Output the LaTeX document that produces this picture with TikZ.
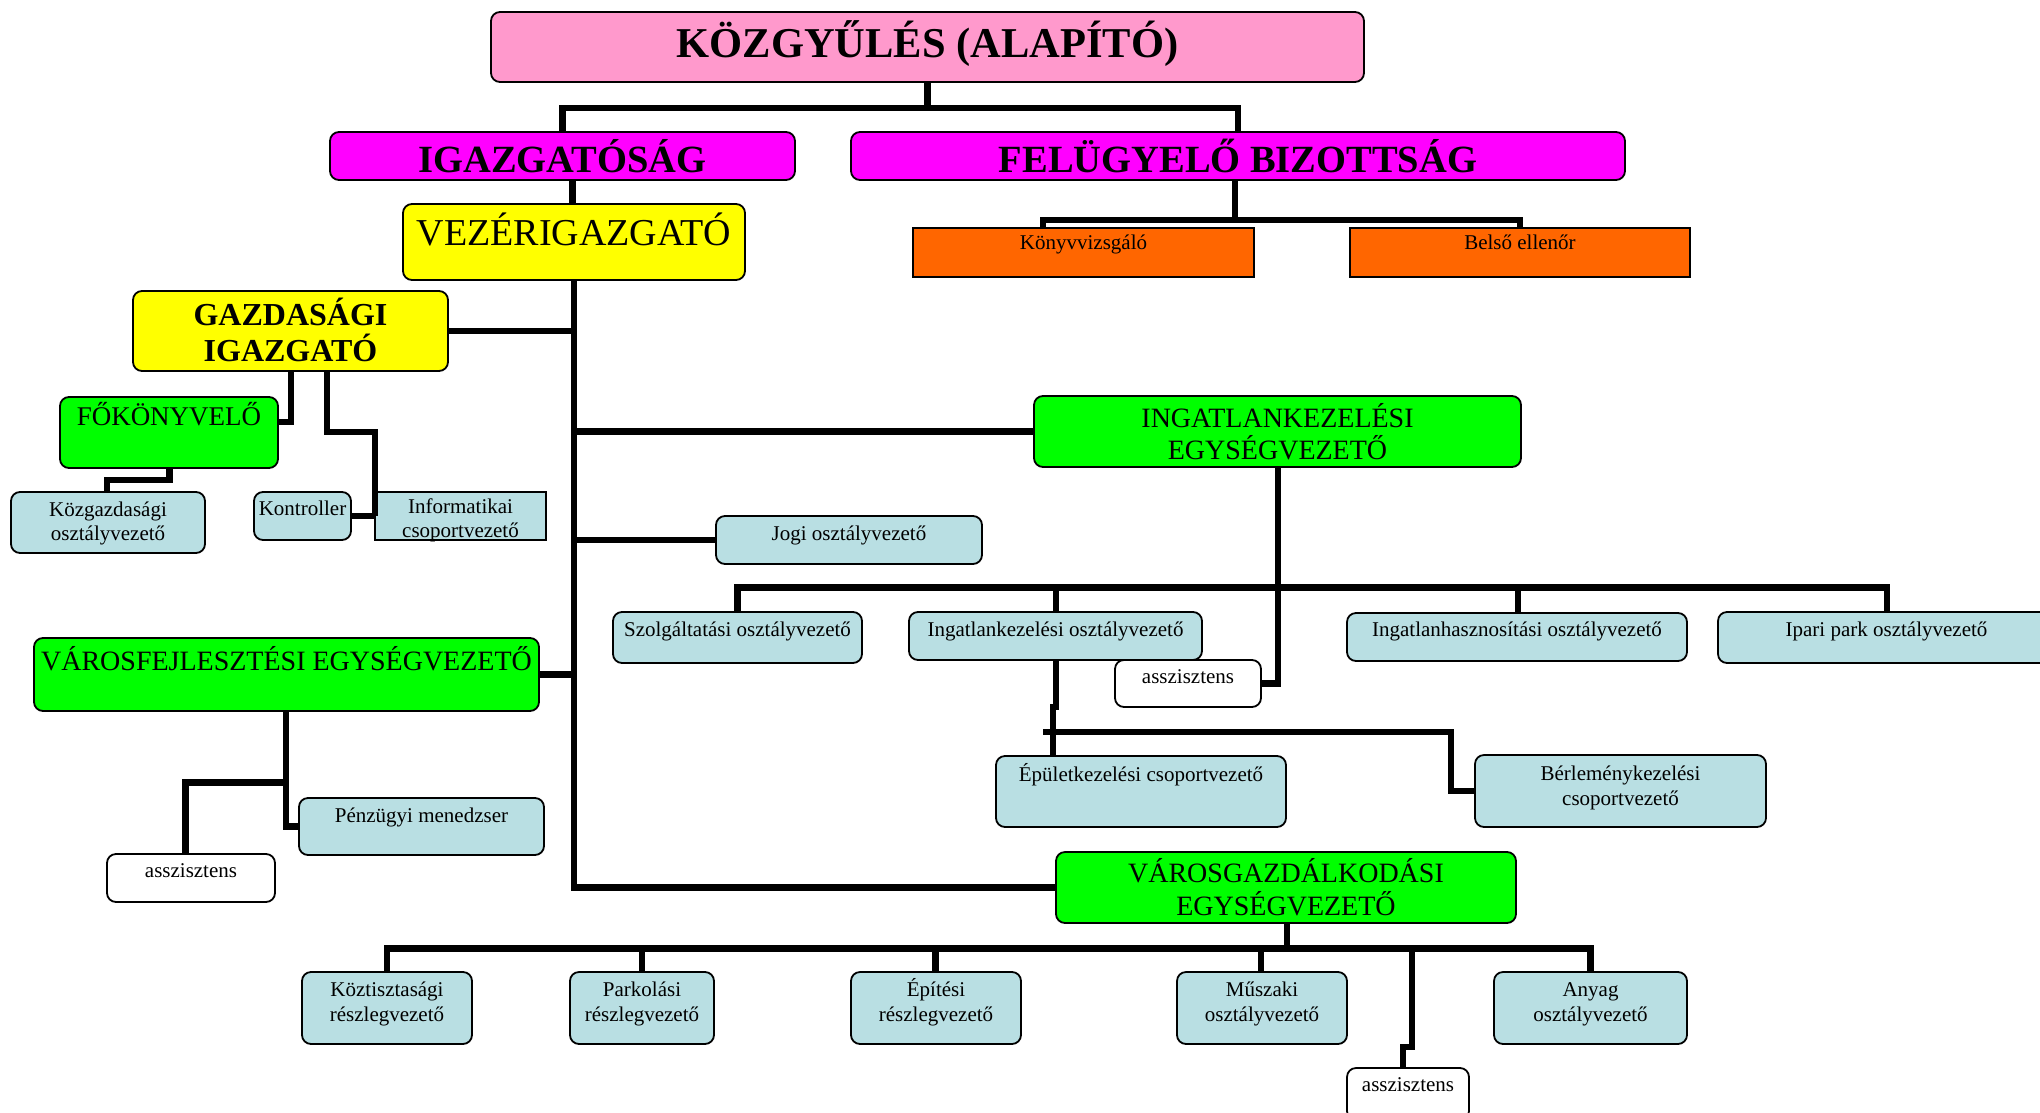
\documentclass[tikz,border=0pt]{standalone}
\usepackage{fontspec}
\setmainfont{Liberation Serif}
\usetikzlibrary{calc}
\definecolor{cpink}{HTML}{FF99CC}
\definecolor{cmag}{HTML}{FF00FF}
\definecolor{cyel}{HTML}{FFFF00}
\definecolor{cgrn}{HTML}{00FF00}
\definecolor{corg}{HTML}{FF6600}
\definecolor{cblu}{HTML}{B9DFE3}
\newcommand\fsz[1]{\fontsize{#1}{#1}\selectfont}
\newcommand\bx[6]{\node[#6, minimum width={(#4-#2)*1pt}, minimum height={(#5-#3)*1pt}] (#1) at ({(#2+#4)/2},{(#3+#5)/2}) {};}
\newcommand\tx[5]{\node[anchor=base, inner sep=0pt, font=#4] (#1) at (#2.center |- 0,#3) {#5};}
\tikzset{
  box/.style={draw=black, line width=1.8pt, rounded corners=9pt, inner sep=0pt, outer sep=0pt},
  sqbox/.style={draw=black, line width=1.8pt, inner sep=0pt, outer sep=0pt},
  conn/.style={draw=black, line width=6.3pt},
  lb/.style={box, fill=cblu},
  wb/.style={box, fill=white},
  gb/.style={box, fill=cgrn}
}
\begin{document}
\begin{tikzpicture}[x=1pt,y=-1pt]
\useasboundingbox (0,0) rectangle (2040,1112);
\clip (0,0) rectangle (2040,1112);
% boxes
\bx{kozgy}{491}{12}{1364}{82}{box, fill=cpink}
\bx{igazg}{330}{132}{795}{180}{box, fill=cmag}
\bx{felugy}{851}{132}{1625}{180}{box, fill=cmag}
\bx{vezer}{403}{204}{745}{280}{box, fill=cyel}
\bx{gazd}{133}{291}{448}{371}{box, fill=cyel}
\bx{fok}{60}{397}{278}{468}{gb}
\bx{kozgazd}{11}{492}{205}{553}{lb}
\bx{kontr}{254}{492}{351}{540}{lb}
\bx{inform}{375}{492}{546}{540}{sqbox, fill=cblu}
\bx{jogi}{716}{516}{982}{564}{lb}
\bx{ingatl}{1034}{396}{1521}{467}{gb}
\bx{konyv}{913}{228}{1254}{277}{sqbox, fill=corg}
\bx{belso}{1350}{228}{1690}{277}{sqbox, fill=corg}
\bx{szolg}{613}{612}{862}{663}{lb}
\bx{ingoszt}{909}{612}{1202}{660}{lb}
\bx{assz2}{1115}{660}{1261}{707}{wb}
\bx{inghasz}{1347}{613}{1687}{661}{lb}
\bx{ipari}{1718}{612}{2055}{663}{lb}
\bx{epulet}{996}{756}{1286}{827}{lb}
\bx{berlem}{1475}{755}{1766}{827}{lb}
\bx{varosf}{34}{638}{539}{711}{gb}
\bx{penz}{299}{798}{544}{855}{lb}
\bx{assz1}{107}{854}{275}{902}{wb}
\bx{varosg}{1056}{852}{1516}{923}{gb}
\bx{kozt}{302}{972}{472}{1044}{lb}
\bx{park}{570}{972}{714}{1044}{lb}
\bx{epit}{851}{972}{1021}{1044}{lb}
\bx{musz}{1177}{972}{1347}{1044}{lb}
\bx{anyag}{1494}{972}{1687}{1044}{lb}
\bx{assz3}{1347}{1068}{1469}{1120}{wb}
% connectors
\draw[conn] (kozgy.south) -- ++(0,26);
\draw[conn] (igazg.north) -- ++(0,-24) -| (felugy.north);
\draw[conn] (felugy.south -| 1235,0) -- ++(0,40);
\draw[conn] (konyv.north -| 1043,0) -- ++(0,-8) -| (belso.north);
\draw[conn] (igazg.south -| 572.5,0) -- (vezer.north -| 572.5,0);
\draw[conn] (vezer.south) -- (vezer.south |- varosg.west) -- (varosg.west);
\draw[conn] (gazd.east) -- (gazd.east -| vezer.south);
\draw[conn] (ingatl.west -| vezer.south) -- (ingatl.west);
\draw[conn] (jogi.west -| vezer.south) -- (jogi.west);
\draw[conn] (varosf.east) -- (varosf.east -| vezer.south);
\draw[conn] (gazd.south -| 291,0) |- (fok.east |- 0,422);
\draw[conn] (gazd.south -| 327,0) |- (inform.west |- 0,432) -- (inform.west);
\draw[conn] (kontr.east) -- (inform.west);
\draw[conn] (fok.south -| 169.6,0) -- ++(0,12) -| (kozgazd.north -| 107,0);
\draw[conn] (ingatl.south -| 1278,0) |- (assz2.east);
\coordinate (rowL) at (738.5,587.5);
\coordinate (rowR) at (1887,587.5);
\draw[conn] (szolg.north) -- (szolg.north |- rowL) -- (rowR) -- (rowR |- ipari.north);
\draw[conn] (ingoszt.north -| 1056,0) -- ++(0,-24.5);
\draw[conn] (inghasz.north -| 1518,0) -- ++(0,-25.5);
\draw[conn] (ingoszt.south -| 1056,0) -- ++(0,47) -- ++(-3.3,0) -- (epulet.north -| 1052.7,0);
\coordinate (bj) at (1043,732);
\draw[conn] (bj) -| ($(berlem.west)+(-24,0)$) -- (berlem.west);
\draw[conn] (varosf.south -| 286,0) |- (penz.west);
\coordinate (vj) at (286,782.5);
\draw[conn] (vj) -| (assz1.north -| 185.5,0);
\draw[conn] (varosg.south -| 1287,0) -- ++(0,25.5);
\coordinate (bL) at (387,948.5);
\coordinate (bR) at (1590.6,948.5);
\draw[conn] (kozt.north -| bL) -- (bL) -- (bR) -- (anyag.north -| bR);
\draw[conn] (park.north -| 642,0) -- ++(0,-23.5);
\draw[conn] (epit.north -| 935.6,0) -- ++(0,-23.5);
\draw[conn] (musz.north -| 1261,0) -- ++(0,-23.5);
\coordinate (aj) at (1411.7,948.5);
\draw[conn] (aj) -- ++(0,98.2) -- ++(-8.7,0) -- (assz3.north -| 1403,0);
% texts
\tx{kozgyT}{kozgy}{57}{\bfseries\fsz{42.5}}{KÖZGYŰLÉS (ALAPÍTÓ)}
\tx{igazgT}{igazg}{172}{\bfseries\fsz{38.5}}{IGAZGATÓSÁG}
\tx{felugyT}{felugy}{172}{\bfseries\fsz{38.5}}{FELÜGYELŐ BIZOTTSÁG}
\tx{vezerT}{vezer}{245.5}{\fsz{38}}{VEZÉRIGAZGATÓ}
\tx{gazdT1}{gazd}{325.5}{\bfseries\fsz{32}}{GAZDASÁGI}
\tx{gazdT2}{gazd}{361.5}{\bfseries\fsz{32}}{IGAZGATÓ}
\tx{fokT}{fok}{425.5}{\fsz{27}}{FŐKÖNYVELŐ}
\tx{kozgazdT1}{kozgazd}{516}{\fsz{21}}{Közgazdasági}
\tx{kozgazdT2}{kozgazd}{540}{\fsz{21}}{osztályvezető}
\tx{kontrT}{kontr}{515}{\fsz{21}}{Kontroller}
\tx{informT1}{inform}{513}{\fsz{21}}{Informatikai}
\tx{informT2}{inform}{537}{\fsz{21}}{csoportvezető}
\tx{jogiT}{jogi}{540}{\fsz{21}}{Jogi osztályvezető}
\tx{ingatlT1}{ingatl}{427}{\fsz{28}}{INGATLANKEZELÉSI}
\tx{ingatlT2}{ingatl}{459}{\fsz{28}}{EGYSÉGVEZETŐ}
\tx{konyvT}{konyv}{249}{\fsz{21}}{Könyvvizsgáló}
\tx{belsoT}{belso}{249}{\fsz{21}}{Belső ellenőr}
\tx{szolgT}{szolg}{636}{\fsz{21}}{Szolgáltatási osztályvezető}
\tx{ingosztT}{ingoszt}{636}{\fsz{21}}{Ingatlankezelési osztályvezető}
\tx{assz2T}{assz2}{683}{\fsz{21}}{asszisztens}
\tx{inghaszT}{inghasz}{636}{\fsz{21}}{Ingatlanhasznosítási osztályvezető}
\tx{ipariT}{ipari}{636}{\fsz{21}}{Ipari park osztályvezető}
\tx{epuletT}{epulet}{781}{\fsz{21}}{Épületkezelési csoportvezető}
\tx{berlemT1}{berlem}{780}{\fsz{21}}{Bérleménykezelési}
\tx{berlemT2}{berlem}{805}{\fsz{21}}{csoportvezető}
\tx{varosfT}{varosf}{670}{\fsz{28}}{VÁROSFEJLESZTÉSI EGYSÉGVEZETŐ}
\tx{penzT}{penz}{822}{\fsz{21}}{Pénzügyi menedzser}
\tx{assz1T}{assz1}{877.5}{\fsz{21}}{asszisztens}
\tx{varosgT1}{varosg}{882}{\fsz{28}}{VÁROSGAZDÁLKODÁSI}
\tx{varosgT2}{varosg}{915}{\fsz{28}}{EGYSÉGVEZETŐ}
\tx{koztT1}{kozt}{996.5}{\fsz{21}}{Köztisztasági}
\tx{koztT2}{kozt}{1021}{\fsz{21}}{részlegvezető}
\tx{parkT1}{park}{996.5}{\fsz{21}}{Parkolási}
\tx{parkT2}{park}{1021}{\fsz{21}}{részlegvezető}
\tx{epitT1}{epit}{996.5}{\fsz{21}}{Építési}
\tx{epitT2}{epit}{1021}{\fsz{21}}{részlegvezető}
\tx{muszT1}{musz}{996.5}{\fsz{21}}{Műszaki}
\tx{muszT2}{musz}{1021}{\fsz{21}}{osztályvezető}
\tx{anyagT1}{anyag}{996.5}{\fsz{21}}{Anyag}
\tx{anyagT2}{anyag}{1021}{\fsz{21}}{osztályvezető}
\tx{assz3T}{assz3}{1091.5}{\fsz{21}}{asszisztens}
\end{tikzpicture}
\end{document}
